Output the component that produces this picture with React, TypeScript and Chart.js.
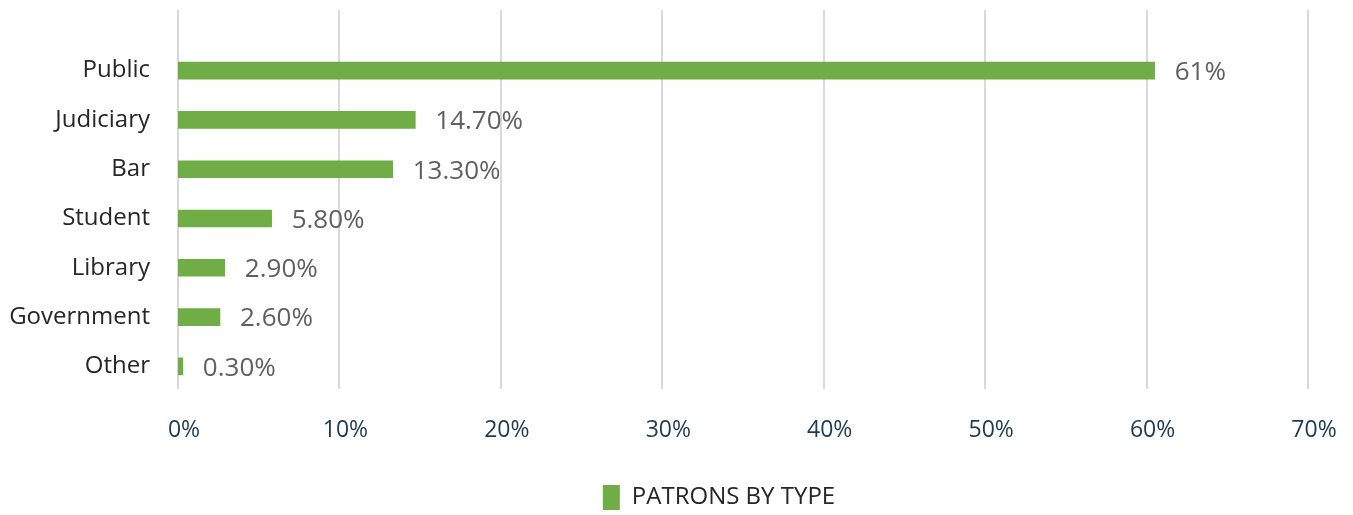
import React, { useEffect, useRef } from "react";
import { Chart, registerables } from "chart.js";

Chart.register(...registerables);

const categories = ["Public", "Judiciary", "Bar", "Student", "Library", "Government", "Other"];
const values = [60.5, 14.7, 13.3, 5.8, 2.9, 2.6, 0.3];
const valueLabels = ["61%", "14.70%", "13.30%", "5.80%", "2.90%", "2.60%", "0.30%"];
const seriesName = "PATRONS BY TYPE";
const xTicks = [0, 10, 20, 30, 40, 50, 60, 70];

const FONT = "'Open Sans', 'Noto Sans', sans-serif";

const gridPlugin = {
  id: "tallGrid",
  beforeDatasetsDraw(chart: any) {
    const { ctx, chartArea, scales } = chart;
    const x = scales.x;
    ctx.save();
    ctx.strokeStyle = "#d9d9d9";
    ctx.lineWidth = 2;
    xTicks.forEach((t) => {
      const px = Math.round(x.getPixelForValue(t));
      ctx.beginPath();
      ctx.moveTo(px, 10);
      ctx.lineTo(px, chartArea.bottom - 2);
      ctx.stroke();
    });
    ctx.restore();
  },
};

const labelPlugin = {
  id: "valueLabels",
  afterDatasetsDraw(chart: any) {
    const { ctx } = chart;
    const meta = chart.getDatasetMeta(0);
    ctx.save();
    ctx.fillStyle = "#5f5f5f";
    ctx.font = `26px ${FONT}`;
    ctx.textAlign = "left";
    ctx.textBaseline = "middle";
    meta.data.forEach((bar: any, i: number) => {
      ctx.fillText(valueLabels[i], bar.x + 20, bar.y + 2);
    });
    ctx.restore();
  },
};

const legendShift = {
  id: "legendShift",
  afterLayout(chart: any) {
    const lg = chart.legend;
    if (!lg) return;
    lg.left = 130;
    lg.top += 5;
    lg.bottom += 5;
  },
};

export default function App() {
  const ref = useRef<HTMLCanvasElement>(null);
  useEffect(() => {
    const chart = new Chart(ref.current!, {
      type: "bar",
      data: {
        labels: categories,
        datasets: [
          {
            label: seriesName,
            data: values,
            backgroundColor: "#70ad47",
            borderWidth: 0,
            barThickness: 17,
          },
        ],
      },
      options: {
        indexAxis: "y",
        animation: false,
        responsive: false,
        layout: { padding: { top: 46, right: 45, left: 0, bottom: 0 } },
        scales: {
          x: {
            min: 0,
            max: 70,
            grid: { display: false },
            border: { display: false },
            afterFit: (axis: any) => {
              axis.height = 89;
            },
            afterBuildTicks: (axis: any) => {
              axis.ticks = xTicks.map((v) => ({ value: v }));
            },
            ticks: {
              padding: 18,
              labelOffset: 6,
              color: "#1a3a55",
              font: { family: FONT, size: 23 },
              callback: (v: any) => `${v}%`,
              maxRotation: 0,
            },
          },
          y: {
            grid: { display: false, drawTicks: false },
            border: { display: false },
            afterFit: (axis: any) => {
              axis.width = 178;
            },
            ticks: {
              padding: 28,
              color: "#262626",
              font: { family: FONT, size: 24 },
            },
          },
        },
        plugins: {
          legend: {
            position: "bottom",
            labels: {
              boxWidth: 17,
              boxHeight: 25,
              padding: 0,
              color: "#262626",
              font: { family: FONT, size: 24 },
            },
          },
          tooltip: { enabled: false },
        },
      },
      plugins: [gridPlugin, labelPlugin, legendShift],
    });
    return () => chart.destroy();
  }, []);
  return (
    <div style={{ position: "absolute", left: 0, top: 0, width: 1353, height: 515, background: "#fff" }}>
      <canvas ref={ref} width={1353} height={515} style={{ width: 1353, height: 515 }} />
    </div>
  );
}
